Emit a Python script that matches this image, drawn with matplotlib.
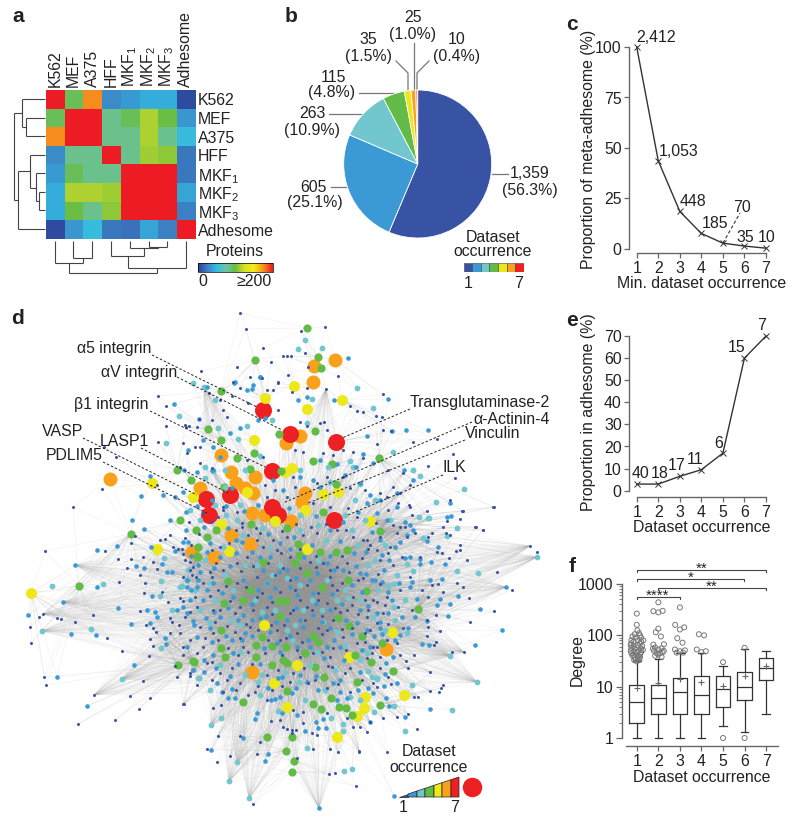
import numpy as np
import matplotlib
matplotlib.use('Agg')
import matplotlib.pyplot as plt
from matplotlib.collections import LineCollection
from matplotlib.colors import LinearSegmentedColormap, Normalize
from matplotlib.cm import ScalarMappable
from matplotlib.ticker import NullFormatter, FixedLocator, LogLocator

plt.rcParams['font.family'] = ['Liberation Sans', 'DejaVu Sans']
plt.rcParams['mathtext.default'] = 'regular'
plt.rcParams['axes.unicode_minus'] = False

W, H = 800, 821
FS = 11.4
DARK = '#222222'
OCC_COLORS = ['#3953a4', '#3b9ad6', '#72c6ce', '#62bb46', '#ece81a', '#f9a11b', '#ed2024']

# panel a
HEAT_LABELS = ['K562', 'MEF', 'A375', 'HFF', 'MKF$_{1}$', 'MKF$_{2}$', 'MKF$_{3}$', 'Adhesome']
HEAT_VALUES = [[250, 95, 176, 30, 36, 44, 44, 5],
               [95, 250, 250, 82, 95, 115, 100, 35],
               [176, 250, 250, 82, 82, 115, 82, 52],
               [30, 82, 82, 250, 82, 112, 108, 22],
               [36, 95, 82, 82, 250, 250, 250, 22],
               [44, 115, 115, 112, 250, 250, 250, 40],
               [44, 100, 82, 108, 250, 250, 250, 25],
               [5, 35, 52, 22, 20, 40, 25, 250]]
HEAT_CMAP = ['#2b3f98', '#3d80c4', '#33bce3', '#6cc3a6', '#6abd45', '#d7df23', '#f7ec13', '#f7931e', '#ed1c24']
# dendrogram segments, picture pixels
ROW_DENDRO = [(45, 99, 22, 99), (45, 118, 26, 118), (45, 136, 26, 136), (26, 118, 26, 136), (26, 127, 22, 127),
              (22, 99, 22, 127), (22, 113, 13.5, 113), (13.5, 113, 13.5, 200), (45, 155, 30, 155), (45, 173, 36, 173),
              (45, 192, 38.5, 192), (45, 210, 38.5, 210), (38.5, 192, 38.5, 210), (38.5, 201, 36, 201),
              (36, 173, 36, 201), (36, 188, 30, 188), (30, 155, 30, 188), (30, 171, 17.5, 171), (17.5, 171, 17.5, 229),
              (45, 229, 17.5, 229), (17.5, 200, 13.5, 200)]
COL_DENDRO = [(54.5, 241, 54.5, 263), (73, 241, 73, 258), (92, 241, 92, 258), (73, 258, 92, 258), (82.5, 258, 82.5, 263),
              (54.5, 263, 82.5, 263), (68.5, 263, 68.5, 273), (111, 241, 111, 256), (129.5, 241, 129.5, 248),
              (149, 241, 149, 247), (167, 241, 167, 247), (149, 247, 167, 247), (158, 247, 158, 248),
              (129.5, 248, 158, 248), (144, 248, 144, 256), (111, 256, 144, 256), (127.5, 256, 127.5, 268),
              (185.5, 241, 185.5, 268), (127.5, 268, 185.5, 268), (156.5, 268, 156.5, 273), (68.5, 273, 156.5, 273)]

# panel b
PIE_VALUES = [1359, 605, 263, 115, 35, 25, 10]

# panel c
OCC = [1, 2, 3, 4, 5, 6, 7]
META_PROP = [100, 43.7, 18.6, 7.7, 2.9, 1.45, 0.41]
META_COUNTS = ['2,412', '1,053', '448', '185', '70', '35', '10']

# panel e
ADH_PROP = [3, 3, 6.5, 9.5, 17, 60, 70]
ADH_COUNTS = ['40', '18', '17', '11', '6', '15', '7']

# panel f
BOX_LOW = [1, 1, 1, 1, 1.7, 1.3, 3]
BOX_Q1 = [2, 3, 3, 3, 4, 5.5, 13.5]
BOX_MED = [5, 6, 8, 7, 9, 10, 23]
BOX_Q3 = [11, 11, 15, 16, 16.5, 19.5, 36]
BOX_HIGH = [31, 35, 45, 45, 25, 55, 49]
BOX_MEAN = [9.5, 12, 14, 12.5, 10.5, 16, 25]
OUT_GROUP = [1] * 43 + [2] * 21 + [3] * 11 + [4] * 5 + [5] * 2 + [6] * 2
OUT_SHIFT = [0, 0, .03, .1, -.1, .15, -.2, .2, -.05, .3, -.25, .05, .2, -.15, -.25, .15, -.28, .05, .25, -.15, -.25, 0,
             .2, -.1, .28, -.28, .1, -.15, .2, -.25, 0, .15, -.15, -.2, .05, .15, -.1, .1, -.05, .05, 0, -.12, .12,
             0, -.23, 0, .2, 0, -.12, .12, -.23, .26, -.15, .15, -.25, 0, .25, -.2, .2, -.08, .08, 0, -.15, .15,
             0, -.22, 0, .2, -.12, .12, -.23, .23, 0, -.15, .15,
             -.12, .12, -.22, .2, 0,
             0, 0,
             0, 0]
OUT_DEGREE = [265, 160, 125, 110, 105, 100, 95, 90, 90, 80, 80, 80, 75, 75, 70, 70, 65, 65, 62, 62, 57, 58, 55, 55, 52, 50,
              50, 48, 47, 45, 46, 43, 42, 40, 40, 38, 37, 36, 34, 33, 31, 33, 33,
              440, 295, 280, 300, 135, 115, 95, 66, 67, 58, 56, 55, 53, 50, 50, 47, 45, 45, 42, 40, 38,
              350, 160, 130, 143, 88, 72, 53, 51, 49, 46, 46,
              105, 100, 53, 49, 47,
              30, 1,
              57, 1]
SIG_LEFT = [1, 1, 2, 1]
SIG_RIGHT = [7, 6, 7, 3]
SIG_TEXT = ['**', '*', '**', '****']

# panel d, node positions (pixel coordinates of the layout)
NODES_OCC7 = [(263, 410), (290, 434), (336, 442), (272, 471), (230, 495), (206, 499), (209, 515), (272, 507), (278, 515), (334, 520)]
NODES_OCC6 = [(335, 360), (314, 366), (313, 382), (300, 436), (286, 443), (221, 455), (231, 472), (236, 483), (255, 477),
              (253, 493), (200, 488), (305, 493), (302, 502), (252, 513), (265, 515), (291, 521), (231, 535), (250, 544),
              (110, 479), (192, 552), (214, 557), (252, 672), (386, 649), (245, 488)]
NODES_OCC5 = [(294, 386), (265, 398), (342, 400), (307, 409), (254, 440), (292, 468), (285, 472), (323, 494), (338, 492),
              (247, 492), (193, 497), (305, 510), (275, 521), (221, 524), (370, 521), (307, 549), (152, 483), (229, 551),
              (264, 625), (349, 657), (297, 665), (274, 683), (287, 707), (365, 697), (364, 708), (357, 716), (337, 737),
              (392, 632), (404, 695), (31, 593), (157, 549)]
NODES_OCC4 = [(307, 328), (318, 357), (321, 368), (255, 360), (221, 391), (208, 429), (221, 440), (279, 434), (315, 431),
              (254, 453), (237, 458), (313, 461), (332, 464), (379, 458), (281, 471), (250, 469), (191, 480), (224, 487),
              (336, 484), (323, 512), (380, 531), (196, 530), (216, 530), (207, 537), (180, 520), (177, 470), (131, 534),
              (198, 547), (198, 557), (251, 524), (287, 528), (298, 544), (320, 552), (336, 552), (347, 550), (263, 562),
              (295, 563), (299, 555), (307, 573), (228, 581), (250, 590), (322, 587), (348, 580), (366, 591), (224, 603),
              (243, 600), (279, 601), (286, 601), (280, 616), (338, 618), (349, 626), (221, 630), (262, 637), (313, 636),
              (362, 636), (221, 648), (256, 645), (272, 646), (318, 642), (286, 647), (305, 653), (225, 657), (256, 657),
              (355, 655), (193, 661), (272, 665), (287, 663), (283, 660), (315, 667), (371, 662), (324, 677), (357, 682),
              (287, 691), (243, 702), (313, 704), (331, 698), (321, 709), (339, 707), (346, 708), (352, 715), (380, 705),
              (267, 737), (292, 737), (286, 751), (294, 761), (292, 772), (418, 609), (382, 643), (393, 671), (79, 586),
              (178, 665), (194, 662), (197, 556)]
NODES_OCC3 = [(52, 586), (103, 584), (42, 631), (91, 629), (122, 679), (164, 558), (161, 581), (160, 596), (172, 610), (161, 648),
              (182, 586), (187, 580), (198, 678), (305, 340), (298, 349), (322, 348), (179, 416), (166, 443), (218, 428),
              (238, 439), (247, 426), (193, 383), (204, 387), (215, 400), (272, 420), (307, 423), (213, 471), (205, 467),
              (225, 487), (357, 388), (373, 408), (312, 399), (393, 452), (350, 461), (353, 467), (413, 470), (420, 476),
              (464, 489), (436, 502), (428, 518), (419, 517), (457, 528), (447, 536), (423, 538), (360, 484), (328, 467),
              (260, 456), (187, 580), (210, 583), (233, 590), (267, 583), (257, 565), (287, 578), (280, 565), (327, 580),
              (312, 600), (303, 610), (337, 600), (210, 623), (240, 625), (287, 630), (295, 625), (323, 622), (337, 632),
              (360, 600), (373, 617), (240, 652), (317, 652), (367, 653), (223, 547), (237, 520), (188, 570), (180, 587),
              (199, 678), (258, 682), (299, 682), (262, 675), (211, 725), (221, 718), (278, 711), (331, 718), (343, 724),
              (343, 731), (307, 748), (237, 762), (229, 781), (344, 771), (352, 769), (249, 798), (368, 671), (377, 678),
              (374, 712), (350, 697), (429, 518), (397, 575), (394, 584), (388, 586), (407, 564), (413, 571), (457, 571),
              (478, 573), (537, 557), (450, 656), (477, 682), (407, 633), (412, 685), (394, 607), (377, 679), (372, 677),
              (452, 710), (405, 731), (394, 706),
              (190, 510), (215, 505), (240, 505), (262, 528), (300, 515), (318, 525), (345, 515), (352, 530), (365, 520),
              (200, 520), (226, 515), (243, 535), (270, 548), (300, 530), (326, 540), (358, 545), (375, 560), (385, 545),
              (205, 560), (225, 575), (245, 565), (272, 575), (300, 585), (318, 560), (345, 590), (368, 565), (378, 590),
              (195, 590), (215, 600), (255, 600), (275, 610), (322, 610), (348, 598), (200, 610), (230, 620), (262, 612),
              (292, 640), (345, 645), (360, 660), (220, 665), (245, 675), (285, 672), (310, 665), (335, 670), (210, 690),
              (260, 695), (305, 700), (325, 690), (360, 700), (385, 630), (395, 620), (405, 600), (390, 520), (375, 500),
              (355, 500), (330, 482), (300, 470), (245, 470), (225, 470), (205, 478)]
NODES_OCC2 = [(75, 565), (97, 550), (117, 546), (63, 602), (97, 587), (28, 615), (71, 634), (96, 635), (118, 608), (131, 624),
              (134, 665), (57, 677), (87, 706), (136, 566), (144, 568), (151, 547), (162, 564), (167, 572), (172, 572),
              (152, 596), (147, 610), (155, 612), (157, 617), (150, 623), (165, 638), (166, 644), (175, 551), (183, 542),
              (177, 610), (187, 613), (193, 621), (193, 670), (187, 587), (197, 587), (198, 580), (174, 404), (207, 387),
              (199, 419), (150, 476), (141, 496), (132, 520), (144, 529), (184, 470), (197, 472), (212, 470), (232, 488),
              (220, 457), (235, 382), (247, 390), (253, 385), (260, 377), (258, 420), (240, 428), (230, 433), (265, 418),
              (203, 440), (213, 447), (188, 450), (183, 492), (175, 497), (163, 495), (170, 520), (348, 358), (388, 399),
              (367, 436), (392, 431), (406, 430), (428, 430), (363, 454), (337, 464), (320, 460), (356, 467), (373, 463),
              (404, 470), (413, 480), (370, 495), (380, 500), (397, 493), (450, 503), (447, 517), (307, 397), (298, 400),
              (334, 400), (252, 389), (234, 383), (260, 377), (213, 470), (360, 483), (345, 475), (320, 487), (273, 480),
              (313, 480), (283, 490), (300, 477), (367, 503), (397, 507), (377, 513), (387, 520), (405, 522), (413, 530),
              (380, 540), (400, 542), (188, 542), (210, 543), (242, 542), (280, 543), (260, 557), (220, 557), (200, 572),
              (187, 580), (213, 583), (243, 580), (267, 583), (287, 570), (317, 573), (327, 563), (360, 573), (372, 580),
              (313, 593), (297, 595), (270, 597), (233, 597), (203, 600), (190, 600), (183, 607), (220, 617), (243, 615),
              (260, 618), (287, 620), (313, 615), (330, 610), (360, 610), (377, 613), (357, 623), (330, 628), (303, 627),
              (245, 633), (232, 640), (210, 628), (197, 637), (187, 647), (213, 655), (233, 653), (277, 643), (297, 647),
              (327, 647), (340, 647), (370, 647), (193, 670), (217, 683), (222, 692), (232, 689), (228, 698), (235, 698),
              (257, 713), (255, 719), (271, 700), (275, 699), (280, 697), (297, 715), (282, 713), (316, 722), (323, 719),
              (305, 731), (318, 728), (326, 728), (243, 738), (211, 750), (268, 754), (265, 761), (319, 808), (370, 722),
              (292, 693), (282, 677), (307, 682), (318, 690), (337, 700), (368, 688), (373, 693), (347, 698), (333, 683),
              (451, 516), (438, 547), (427, 541), (420, 559), (431, 562), (420, 564), (445, 564), (502, 630), (506, 587),
              (480, 609), (448, 616), (458, 596), (450, 604), (440, 599), (437, 605), (442, 579), (427, 621), (422, 644),
              (429, 645), (475, 645), (412, 582), (430, 580), (410, 525), (407, 535), (395, 547), (405, 558), (410, 557),
              (389, 560), (382, 555), (375, 580), (382, 582), (399, 583), (410, 587), (417, 599), (388, 613), (402, 617),
              (415, 617), (408, 628), (380, 628), (367, 630), (374, 636), (400, 635), (395, 640), (393, 657), (386, 663),
              (385, 674), (397, 683), (386, 698), (430, 709), (405, 717), (389, 706), (394, 796),
              (186, 512), (197, 506), (212, 500), (226, 506), (244, 511), (258, 505), (289, 508), (316, 516), (330, 530),
              (343, 522), (358, 512), (372, 532), (186, 530), (204, 527), (228, 528), (236, 540), (268, 534), (294, 537),
              (312, 545), (340, 541), (354, 553), (366, 552), (191, 556), (207, 552), (236, 553), (252, 552), (270, 557),
              (290, 549), (304, 557), (330, 556), (343, 570), (356, 566), (384, 570), (198, 565), (214, 568), (230, 566),
              (263, 570), (279, 572), (296, 578), (310, 580), (334, 570), (352, 585), (366, 574), (191, 590), (207, 590),
              (222, 593), (258, 590), (275, 588), (290, 587), (332, 594), (362, 592), (388, 592), (214, 612), (228, 608),
              (252, 604), (266, 616), (296, 608), (316, 604), (342, 604), (368, 606), (392, 600), (238, 620), (252, 620),
              (276, 622), (300, 620), (322, 622), (346, 620), (380, 622), (194, 625), (206, 618), (226, 636), (252, 636),
              (270, 632), (290, 636), (308, 640), (334, 640), (352, 634), (382, 634), (212, 642), (242, 640), (264, 648),
              (280, 652), (310, 647), (324, 658), (344, 660), (362, 650), (204, 660), (216, 668), (238, 664), (260, 664),
              (278, 678), (300, 675), (316, 676), (340, 680), (360, 672), (384, 686), (204, 672), (230, 676), (268, 688),
              (296, 688), (340, 692), (358, 690)]
NODES_OCC1 = [(45, 551), (105, 551), (118, 559), (131, 543), (127, 568), (131, 559), (143, 557), (153, 562), (140, 575), (157, 569),
              (119, 582), (145, 583), (43, 614), (39, 617), (57, 618), (61, 619), (75, 622), (93, 615), (144, 593), (162, 592),
              (168, 602), (140, 611), (30, 627), (31, 643), (107, 638), (146, 625), (153, 628), (156, 632), (170, 633),
              (180, 633), (150, 639), (153, 646), (122, 651), (149, 656), (183, 647), (183, 655), (44, 677), (46, 685),
              (143, 681), (94, 695), (130, 696), (150, 698), (139, 709), (184, 704), (78, 724), (115, 720), (177, 677),
              (190, 676), (175, 666), (170, 618), (172, 622), (179, 625), (180, 598), (183, 601), (160, 540), (165, 539),
              (170, 535), (173, 547), (182, 549), (178, 549), (183, 554), (190, 562), (190, 570), (192, 575), (135, 536),
              (201, 371), (158, 396), (166, 406), (158, 442), (166, 426), (186, 427), (197, 427), (189, 426), (73, 507),
              (102, 489), (116, 457), (104, 447), (157, 485), (246, 329), (263, 348), (271, 362), (262, 378), (250, 377),
              (240, 388), (233, 382), (237, 367), (287, 356), (305, 353), (278, 382), (288, 375), (273, 390), (232, 396),
              (248, 403), (223, 410), (199, 419), (212, 420), (200, 447), (187, 453), (200, 463), (183, 443), (325, 327),
              (301, 331), (283, 356), (291, 356), (338, 376), (308, 367), (278, 383), (267, 390), (326, 389), (307, 388),
              (292, 392), (383, 394), (350, 406), (357, 411), (363, 412), (376, 416), (382, 417), (383, 430), (391, 431),
              (324, 422), (320, 423), (307, 426), (300, 422), (327, 430), (278, 410), (220, 400), (185, 425), (377, 444),
              (413, 442), (437, 439), (453, 454), (428, 466), (455, 478), (363, 458), (353, 452), (343, 450), (333, 455),
              (323, 453), (303, 452), (295, 450), (263, 457), (247, 460), (209, 393), (227, 417), (195, 447), (212, 468),
              (180, 467), (388, 470), (403, 473), (410, 485), (393, 487), (380, 493), (365, 490), (350, 488), (343, 477),
              (327, 477), (317, 483), (293, 477), (295, 487), (275, 490), (265, 485), (267, 497), (287, 497), (313, 503),
              (330, 507), (348, 508), (357, 517), (387, 497), (400, 493), (388, 510), (410, 507), (450, 500), (463, 511),
              (493, 507), (475, 527), (483, 530), (460, 545), (443, 527), (450, 535), (428, 537), (407, 537), (397, 533),
              (223, 507), (218, 517), (237, 512), (242, 527), (220, 547), (185, 538), (203, 513), (223, 510), (242, 523),
              (260, 533), (273, 540), (287, 537), (303, 535), (317, 533), (337, 530), (353, 537), (367, 540), (377, 550),
              (362, 558), (347, 563), (337, 567), (323, 563), (310, 562), (290, 557), (277, 550), (263, 547), (247, 557),
              (237, 563), (223, 570), (210, 572), (193, 567), (183, 577), (203, 583), (218, 590), (237, 583), (257, 577),
              (275, 575), (290, 580), (307, 585), (330, 577), (337, 590), (353, 597), (373, 600), (367, 617), (347, 610),
              (327, 603), (307, 607), (293, 610), (267, 607), (253, 610), (235, 613), (213, 610), (197, 607), (185, 617),
              (200, 627), (213, 633), (235, 632), (250, 627), (277, 630), (297, 633), (327, 630), (343, 637), (370, 630),
              (377, 647), (357, 643), (333, 648), (297, 650), (280, 640), (243, 647), (203, 647), (190, 640), (238, 655),
              (265, 653), (313, 653), (330, 657), (183, 704), (213, 708), (221, 705), (218, 736), (240, 736), (207, 749),
              (217, 762), (230, 756), (257, 754), (260, 742), (280, 720), (271, 721), (283, 727), (287, 729), (292, 730),
              (296, 730), (292, 733), (313, 749), (297, 758), (329, 774), (335, 773), (356, 786), (359, 751), (338, 752),
              (330, 749), (253, 804), (303, 723), (312, 733), (317, 735), (293, 710), (303, 712), (327, 713), (347, 718),
              (360, 727), (367, 732), (353, 727), (267, 700), (255, 692), (240, 683), (227, 680), (220, 673), (207, 663),
              (190, 673), (223, 692), (248, 695), (272, 690), (290, 682), (308, 683), (327, 688), (350, 692), (373, 683),
              (345, 673), (332, 667), (267, 675), (293, 673), (494, 507), (462, 511), (476, 527), (483, 530), (460, 519),
              (447, 521), (530, 546), (537, 552), (467, 560), (460, 550), (456, 551), (497, 572), (512, 590), (463, 587),
              (457, 583), (469, 598), (494, 611), (470, 622), (464, 652), (452, 652), (430, 672), (443, 685), (441, 688),
              (439, 692), (430, 691), (418, 697), (414, 697), (436, 615), (440, 631), (427, 636), (436, 642), (434, 645),
              (414, 655), (406, 661), (408, 668), (391, 684), (428, 627), (427, 620), (422, 590), (432, 585), (438, 584),
              (428, 597), (443, 592), (412, 515), (427, 511), (409, 505), (398, 503), (400, 527), (393, 525), (405, 527),
              (415, 533), (432, 533), (446, 533), (442, 553), (437, 552), (449, 558), (420, 557), (402, 557), (390, 547),
              (380, 537), (370, 545), (363, 540), (380, 560), (393, 565), (410, 577), (400, 590), (387, 597), (377, 602),
              (368, 610), (383, 613), (398, 607), (412, 610), (403, 628), (377, 623), (365, 633), (373, 647), (397, 643),
              (400, 655), (380, 657), (367, 658), (388, 677), (377, 687), (417, 729), (359, 752), (387, 752), (397, 717),
              (408, 714), (383, 718), (370, 722), (240, 313),
              (189, 522), (199, 534), (211, 522), (236, 530), (248, 535), (256, 528), (282, 531), (296, 524), (311, 527),
              (326, 524), (346, 530), (376, 523), (191, 545), (212, 550), (229, 543), (257, 540), (281, 553), (300, 549),
              (316, 556), (342, 556), (368, 549), (388, 553), (185, 560), (216, 563), (241, 571), (253, 566), (268, 563),
              (283, 568), (300, 568), (316, 567), (330, 570), (349, 572), (363, 578), (378, 574), (196, 577), (212, 577),
              (226, 586), (246, 587), (262, 593), (280, 592), (295, 590), (318, 593), (332, 585), (342, 583), (358, 580),
              (380, 584), (195, 597), (210, 596), (230, 601), (257, 597), (272, 602), (300, 600), (318, 600), (335, 608),
              (352, 605), (365, 600), (385, 605), (190, 612), (220, 610), (240, 607), (272, 614), (290, 613), (312, 610),
              (322, 616), (340, 612), (358, 614), (215, 622), (227, 626), (246, 624), (258, 630), (271, 625), (284, 625),
              (305, 620), (318, 628), (333, 620), (352, 628), (388, 624), (205, 638), (218, 640), (240, 638), (268, 640),
              (286, 638), (302, 642), (322, 634), (342, 629), (365, 642), (387, 640), (197, 653), (228, 648), (248, 652),
              (282, 655), (300, 657), (322, 652), (346, 650), (372, 653), (212, 662), (232, 668), (252, 664), (278, 670),
              (304, 668), (328, 666), (350, 668), (380, 668), (197, 685), (212, 680), (236, 690), (258, 686), (282, 686),
              (315, 680), (338, 684), (362, 680)]
# strongly connected peripheral nodes and central hubs
FAN_HUBS = [(42, 631), (43, 614), (63, 602), (75, 565), (122, 679), (94, 695), (229, 781), (249, 798), (319, 808), (464, 652),
            (450, 656), (477, 682), (537, 557), (530, 546), (506, 587), (204, 387), (326, 389), (237, 762), (211, 725)]
CORE_HUBS = [(279, 601), (307, 573), (322, 587), (280, 616), (313, 636), (250, 590)]
NODE_DIAM = [3.0, 4.6, 5.8, 8.2, 11.0, 14.0, 17.0]
# orange sits under red, the smaller classes above both
NODE_ORDER = [5, 6, 4, 3, 2, 1, 0]

# leader labels of panel d
D_LABELS = ['α5 integrin', 'αV integrin', 'β1 integrin', 'VASP', 'LASP1', 'PDLIM5', 'Transglutaminase-2', 'α-Actinin-4', 'Vinculin', 'ILK']
D_TEXT_X = [151, 177, 149, 83, 149, 103, 410, 473, 465, 443]
D_TEXT_Y = [349, 372, 405, 432, 442, 456, 402, 419, 434, 467]
D_LEAD = [(152, 355, 257, 407), (177, 377, 282, 430), (150, 411, 265, 467), (83, 438, 197, 495), (141, 448, 228, 493),
          (103, 462, 207, 513), (410, 409, 342, 438), (472, 422, 283, 503), (465, 440, 308, 503), (443, 475, 348, 515)]


def axpx(x0, y0, x1, y1):
    # axes from picture pixels, y measured from the top
    return fig.add_axes([x0 / W, 1 - y1 / H, (x1 - x0) / W, (y1 - y0) / H], facecolor='none')


def txt(x, y, s, ha='center', va='center', size=FS, **kw):
    bg.text(x, y, s, ha=ha, va=va, size=size, color=DARK, **kw)


def style_line_axes(ax, left_out, bottom_out):
    for side in ['top', 'right']:
        ax.spines[side].set_visible(False)
    ax.spines['left'].set_position(('outward', left_out))
    ax.spines['bottom'].set_position(('outward', bottom_out))
    for side in ['left', 'bottom']:
        ax.spines[side].set_color('#666666')
        ax.spines[side].set_linewidth(1.0)
    ax.tick_params(axis='both', length=3.6, width=0.9, color='#666666', labelsize=FS, labelcolor=DARK, pad=2)
    ax.set_xticks(OCC)


fig = plt.figure(figsize=(W / 100, H / 100), dpi=100)
bg = fig.add_axes([0, 0, 1, 1])
bg.set_xlim(0, W)
bg.set_ylim(H, 0)
bg.axis('off')

for s, x, y in [('a', 18, 17), ('b', 291, 17), ('c', 572, 24), ('d', 18, 318), ('e', 572, 320), ('f', 572, 566)]:
    txt(x, y, s, size=15, fontweight='bold')

# a: heat map
heat_cmap = LinearSegmentedColormap.from_list('heat', HEAT_CMAP)
heat_norm = Normalize(0, 200)
ax_a = axpx(45.5, 90, 195, 239)
ax_a.imshow(np.array(HEAT_VALUES), cmap=heat_cmap, norm=heat_norm, aspect='auto', interpolation='nearest')
ax_a.set_xticks(range(8))
ax_a.set_xticklabels(HEAT_LABELS, rotation=90, size=FS, color=DARK)
ax_a.set_yticks(range(8))
ax_a.set_yticklabels(HEAT_LABELS, size=FS, color=DARK)
ax_a.xaxis.tick_top()
ax_a.yaxis.tick_right()
ax_a.tick_params(length=0, pad=2)
for sp in ax_a.spines.values():
    sp.set_visible(False)
bg.add_collection(LineCollection([[(a, b), (c, d)] for a, b, c, d in ROW_DENDRO + COL_DENDRO], colors='#444444', linewidths=0.8))

ax_cb = axpx(198, 263, 272.5, 272)
cb = fig.colorbar(ScalarMappable(heat_norm, heat_cmap), cax=ax_cb, orientation='horizontal')
cb.set_ticks([])
cb.outline.set_linewidth(0.5)
txt(235, 252, 'Proteins')
txt(203, 282, '0')
txt(272, 282, '≥200', ha='right')

# b: pie
ax_b = axpx(343.7, 90, 491.7, 238)
wedges, _ = ax_b.pie(PIE_VALUES, colors=OCC_COLORS, startangle=90, counterclock=False, radius=1,
                     wedgeprops={'edgecolor': 'white', 'linewidth': 0.6})
wedges[-1].set_facecolor('#f0805a')
ax_b.set_xlim(-1, 1)
ax_b.set_ylim(-1, 1)
for x, y, s in [(530, 174, '1,359'), (530, 190, '(56.3%)'), (313, 187, '605'), (315, 203, '(25.1%)'),
                (312, 114, '263'), (312, 130, '(10.9%)'), (333, 77, '115'), (332, 93, '(4.8%)'),
                (368, 40, '35'), (369, 56, '(1.5%)'), (413, 18, '25'), (413, 34, '(1.0%)'),
                (457, 40, '10'), (457, 56, '(0.4%)')]:
    txt(x, y, s)
for pts in [[(492, 174), (508, 174)], [(331, 187), (347, 187)], [(329, 114), (363, 114)], [(359, 93), (395, 93)],
            [(396, 61), (408, 73), (408, 90)], [(414, 43), (414, 90)], [(429, 61), (417, 73), (417, 90)]]:
    bg.plot(*zip(*pts), color='#777777', lw=0.9)
txt(493, 237, 'Dataset')
txt(493, 252, 'occurrence')
ax_sw = axpx(463.5, 263, 524, 272)
ax_sw.bar(OCC, [1] * 7, width=1, color=OCC_COLORS, edgecolor='#444444', linewidth=0.4)
ax_sw.set_xlim(0.5, 7.5)
ax_sw.set_ylim(0, 1)
ax_sw.axis('off')
txt(468, 283, '1')
txt(519, 283, '7')

# c: proportion of meta-adhesome
ax_c = axpx(636.7, 47, 766, 249)
ax_c.plot(OCC, META_PROP, color='#333333', lw=1, marker='x', ms=4, mew=0.7, clip_on=False)
ax_c.set_xlim(1, 7)
ax_c.set_ylim(0, 100)
ax_c.set_yticks([0, 25, 50, 75, 100])
style_line_axes(ax_c, 5.2, 2.9)
for s, x, y in zip(META_COUNTS, [656, 679, 693, 715, 742, 745, 767], [37, 151, 202, 224, 207, 237, 238]):
    txt(x, y, s)
bg.plot([723, 740], [243, 213], color='#333333', lw=0.8, ls=(0, (3, 2)))
txt(588, 149, 'Proportion of meta-adhesome (%)', rotation=90)
txt(702, 283, 'Min. dataset occurrence')

# d: network
groups = [NODES_OCC1, NODES_OCC2, NODES_OCC3, NODES_OCC4, NODES_OCC5, NODES_OCC6, NODES_OCC7]
all_nodes = np.array(sum(groups, []), dtype=float)
big_nodes = np.array(NODES_OCC4 + NODES_OCC5 + NODES_OCC6 + NODES_OCC7, dtype=float)
core = np.array(CORE_HUBS, dtype=float)
centre = np.array([290, 600.0])
dist_c = np.hypot(*(all_nodes - centre).T)
central_nodes = all_nodes[dist_c < 100]
local_segs = []
for p in all_nodes:
    near = np.argsort(np.hypot(*(big_nodes - p).T))[:3]
    local_segs += [[p, big_nodes[k]] for k in near]
for p in all_nodes[dist_c < 170]:
    local_segs += [[p, c] for c in core]
for p in central_nodes:
    near = np.argsort(np.hypot(*(all_nodes - p).T))[1:10]
    local_segs += [[p, all_nodes[k]] for k in near]
fan_segs = []
for hub in FAN_HUBS:
    fan_segs += [[hub, q] for q in central_nodes[::6]]
bg.add_collection(LineCollection(local_segs, colors='#909090', linewidths=0.4, alpha=0.13, zorder=0.5))
bg.add_collection(LineCollection(fan_segs, colors='#b0b0b0', linewidths=0.35, alpha=0.1, zorder=0.5))

for rank, i in enumerate(NODE_ORDER):
    xy = np.array(groups[i])
    bg.scatter(xy[:, 0], xy[:, 1], s=(NODE_DIAM[i] * 0.72) ** 2, color=OCC_COLORS[i], linewidths=0, zorder=2 + rank * 0.1)

for s, x, y, lead in zip(D_LABELS, D_TEXT_X, D_TEXT_Y, D_LEAD):
    ha = 'right' if x < 200 else 'left'
    txt(x, y, s, ha=ha, zorder=4)
    bg.plot(lead[0::2], lead[1::2], color='#222222', lw=0.7, ls=(0, (2.5, 2)), zorder=3)

# triangle legend of the network
tri_edges = [399, 408, 417, 425, 434, 442, 451, 459]
for i in range(7):
    x0, x1 = tri_edges[i], tri_edges[i + 1]
    h0, h1 = 20 * (x0 - 399) / 60, 20 * (x1 - 399) / 60
    bg.fill([x0, x1, x1, x0], [797, 797, 797 - h1, 797 - h0], facecolor=OCC_COLORS[i], edgecolor='#222222', linewidth=0.5, zorder=3)
bg.scatter([472], [787], s=(19.5 * 0.72) ** 2, color=OCC_COLORS[6], linewidths=0, zorder=3)
txt(429, 751, 'Dataset', zorder=4)
txt(429, 767, 'occurrence', zorder=4)
txt(403, 808, '1', zorder=4)
txt(455, 808, '7', zorder=4)

# e: proportion in adhesome
ax_e = axpx(636.7, 336, 766, 490.7)
ax_e.plot(OCC, ADH_PROP, color='#333333', lw=1, marker='x', ms=4, mew=0.7, clip_on=False)
ax_e.set_xlim(1, 7)
ax_e.set_ylim(0, 70)
ax_e.set_yticks(range(0, 71, 10))
style_line_axes(ax_e, 5.2, 4.5)
for s, x, y in zip(ADH_COUNTS, [640, 660, 677, 695, 719, 737, 762], [474, 474, 465, 460, 443, 348, 326]):
    txt(x, y, s)
txt(588, 412, 'Proportion in adhesome (%)', rotation=90)
txt(702, 527, 'Dataset occurrence')

# f: degree box plots
ax_f = axpx(626, 584, 778, 738)
stats = [{'whislo': lo, 'q1': q1, 'med': m, 'q3': q3, 'whishi': hi, 'mean': mean, 'fliers': []}
         for lo, q1, m, q3, hi, mean in zip(BOX_LOW, BOX_Q1, BOX_MED, BOX_Q3, BOX_HIGH, BOX_MEAN)]
line = {'color': '#333333', 'linewidth': 0.9}
parts = ax_f.bxp(stats, positions=OCC, widths=0.68, showmeans=True, showfliers=False, manage_ticks=False, capwidths=0.35,
                 boxprops=line, medianprops=line, whiskerprops=line, capprops=line,
                 meanprops={'marker': '+', 'markeredgecolor': '#666666', 'markersize': 4, 'markeredgewidth': 0.8})
for group in parts.values():
    for artist in group:
        artist.set_clip_on(False)
ax_f.scatter(np.array(OUT_GROUP) + np.array(OUT_SHIFT), OUT_DEGREE, s=13, facecolors='none', edgecolors='#777777', linewidths=0.7, clip_on=False, zorder=4)
ax_f.set_yscale('log')
ax_f.set_xlim(0.5, 7.55)
ax_f.set_ylim(1, 1000)
style_line_axes(ax_f, 2.9, 5.8)
ax_f.yaxis.set_major_locator(FixedLocator([1, 10, 100, 1000]))
ax_f.set_yticklabels(['1', '10', '100', '1000'])
ax_f.yaxis.set_minor_locator(LogLocator(base=10, subs=range(2, 10), numticks=10))
ax_f.yaxis.set_minor_formatter(NullFormatter())
ax_f.tick_params(axis='y', which='minor', length=2, width=0.6, color='#666666')
ax_f.tick_params(axis='y', which='major', length=4.5, pad=1.5)
ax_f.spines['left'].set_bounds(1, 1000)
for lft, rgt, s, y, tx in zip(SIG_LEFT, SIG_RIGHT, SIG_TEXT, [570, 579, 588, 597], [702, 691, 712, 658]):
    x0, x1 = 636.7 + (lft - 1) * 21.55, 636.7 + (rgt - 1) * 21.55
    bg.plot([x0, x0, x1, x1], [y + 2, y, y, y + 2], color='#444444', lw=0.8)
    txt(tx, y - 1.5, s, size=11)
txt(577, 660, 'Degree', rotation=90)
txt(702, 777, 'Dataset occurrence')

fig.savefig('out.png', dpi=100)
